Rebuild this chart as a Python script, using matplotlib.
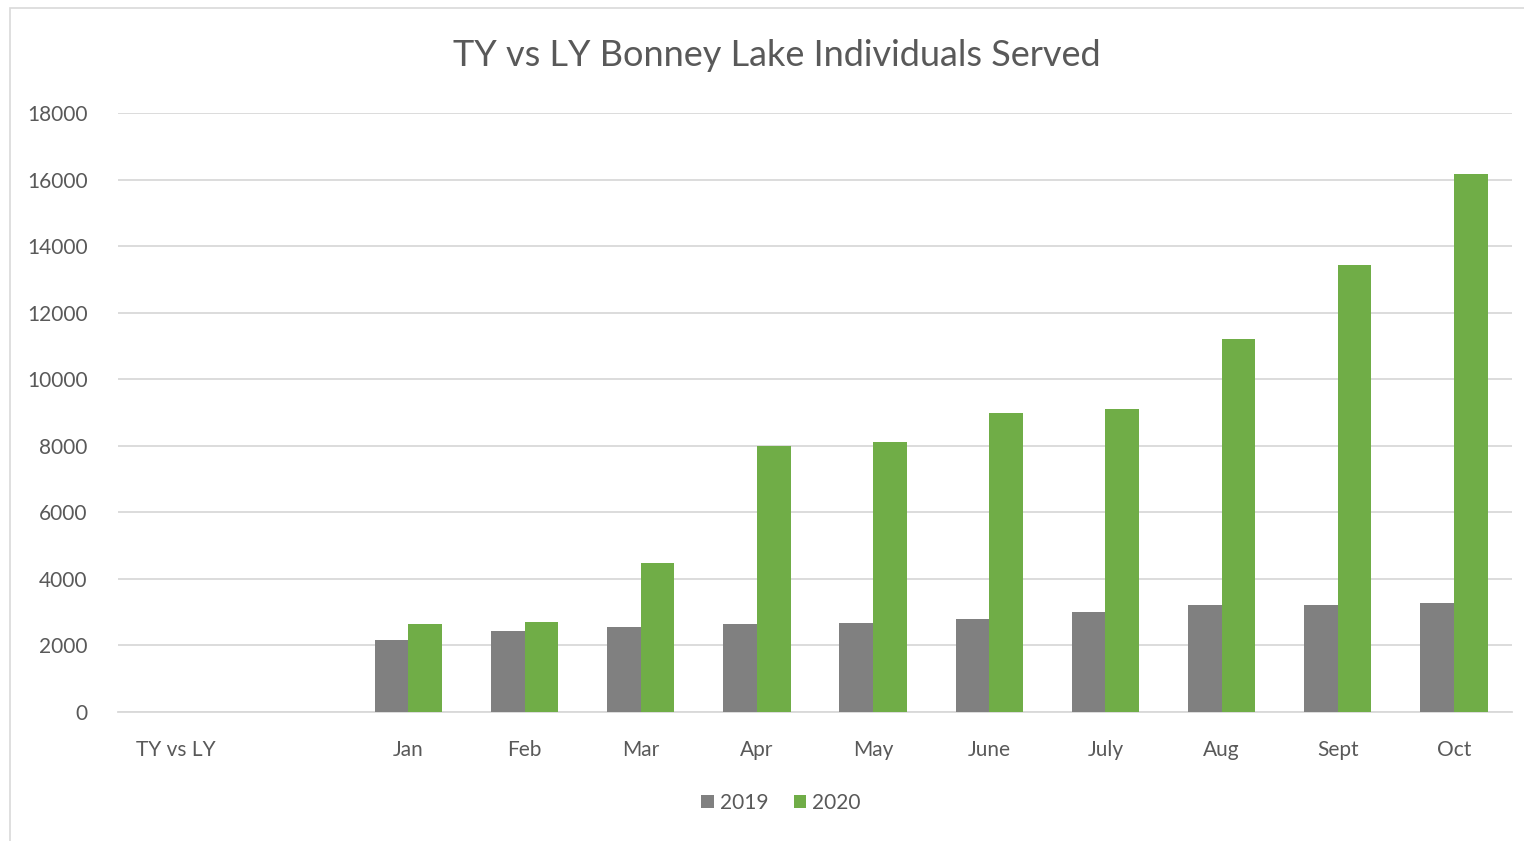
import numpy as np
import matplotlib
matplotlib.use('Agg')
from matplotlib import pyplot as plt
from matplotlib.patches import Rectangle

categories = ['TY vs LY', '', 'Jan', 'Feb', 'Mar', 'Apr', 'May', 'June', 'July', 'Aug', 'Sept', 'Oct']
vals_2019 = [0, 0, 2170, 2440, 2560, 2650, 2680, 2800, 3010, 3220, 3220, 3280]
vals_2020 = [0, 0, 2650, 2710, 4480, 8000, 8120, 8990, 9110, 11220, 13440, 16180]
yticks = [0, 2000, 4000, 6000, 8000, 10000, 12000, 14000, 16000, 18000]

GREY = '#808080'
GREEN = '#70AD47'
TEXT = '#595959'

plt.rcParams['font.family'] = ['Lato', 'DejaVu Sans']

fig = plt.figure(figsize=(15.24, 8.41), dpi=100)
ax = fig.add_axes([118 / 1524, 1 - 712 / 841, (1512 - 118) / 1524, (712 - 113) / 841])

# light frame round the chart area
fig.patches.append(Rectangle((10 / 1524, -0.01), 1.1, 1 - 8 / 841 + 0.01,
                             transform=fig.transFigure, fill=False,
                             edgecolor='#D9D9D9', linewidth=1.2))

x = np.arange(len(categories))
w = 0.29
ax.bar(x - w / 2, vals_2019, w, color=GREY, label='2019', zorder=3)
ax.bar(x + w / 2, vals_2020, w, color=GREEN, label='2020', zorder=3)

ax.set_xlim(-0.5, len(categories) - 0.5)
ax.set_ylim(0, 18000)
ax.set_yticks(yticks)
ax.set_yticklabels([str(t) for t in yticks])
ax.set_xticks(x)
ax.set_xticklabels(categories)
ax.yaxis.grid(True, color='#D9D9D9', linewidth=1.3, zorder=0)
ax.set_axisbelow(True)

for s in ['top', 'right', 'left']:
    ax.spines[s].set_visible(False)
ax.spines['bottom'].set_color('#D9D9D9')
ax.spines['bottom'].set_linewidth(1.3)
ax.tick_params(axis='both', length=0, labelsize=15, labelcolor=TEXT)
ax.tick_params(axis='y', pad=22)
ax.tick_params(axis='x', pad=20)

fig.text(777 / 1524, 1 - 56 / 841, 'TY vs LY Bonney Lake Individuals Served',
         ha='center', va='center', fontsize=26, color=TEXT)

fig.legend(loc='center', bbox_to_anchor=(781 / 1524, 1 - 803 / 841), ncol=2,
           frameon=False, fontsize=15, handlelength=0.6, handleheight=0.6,
           handletextpad=0.3, columnspacing=1.2, labelcolor=TEXT)

fig.savefig('out.png', dpi=100)
